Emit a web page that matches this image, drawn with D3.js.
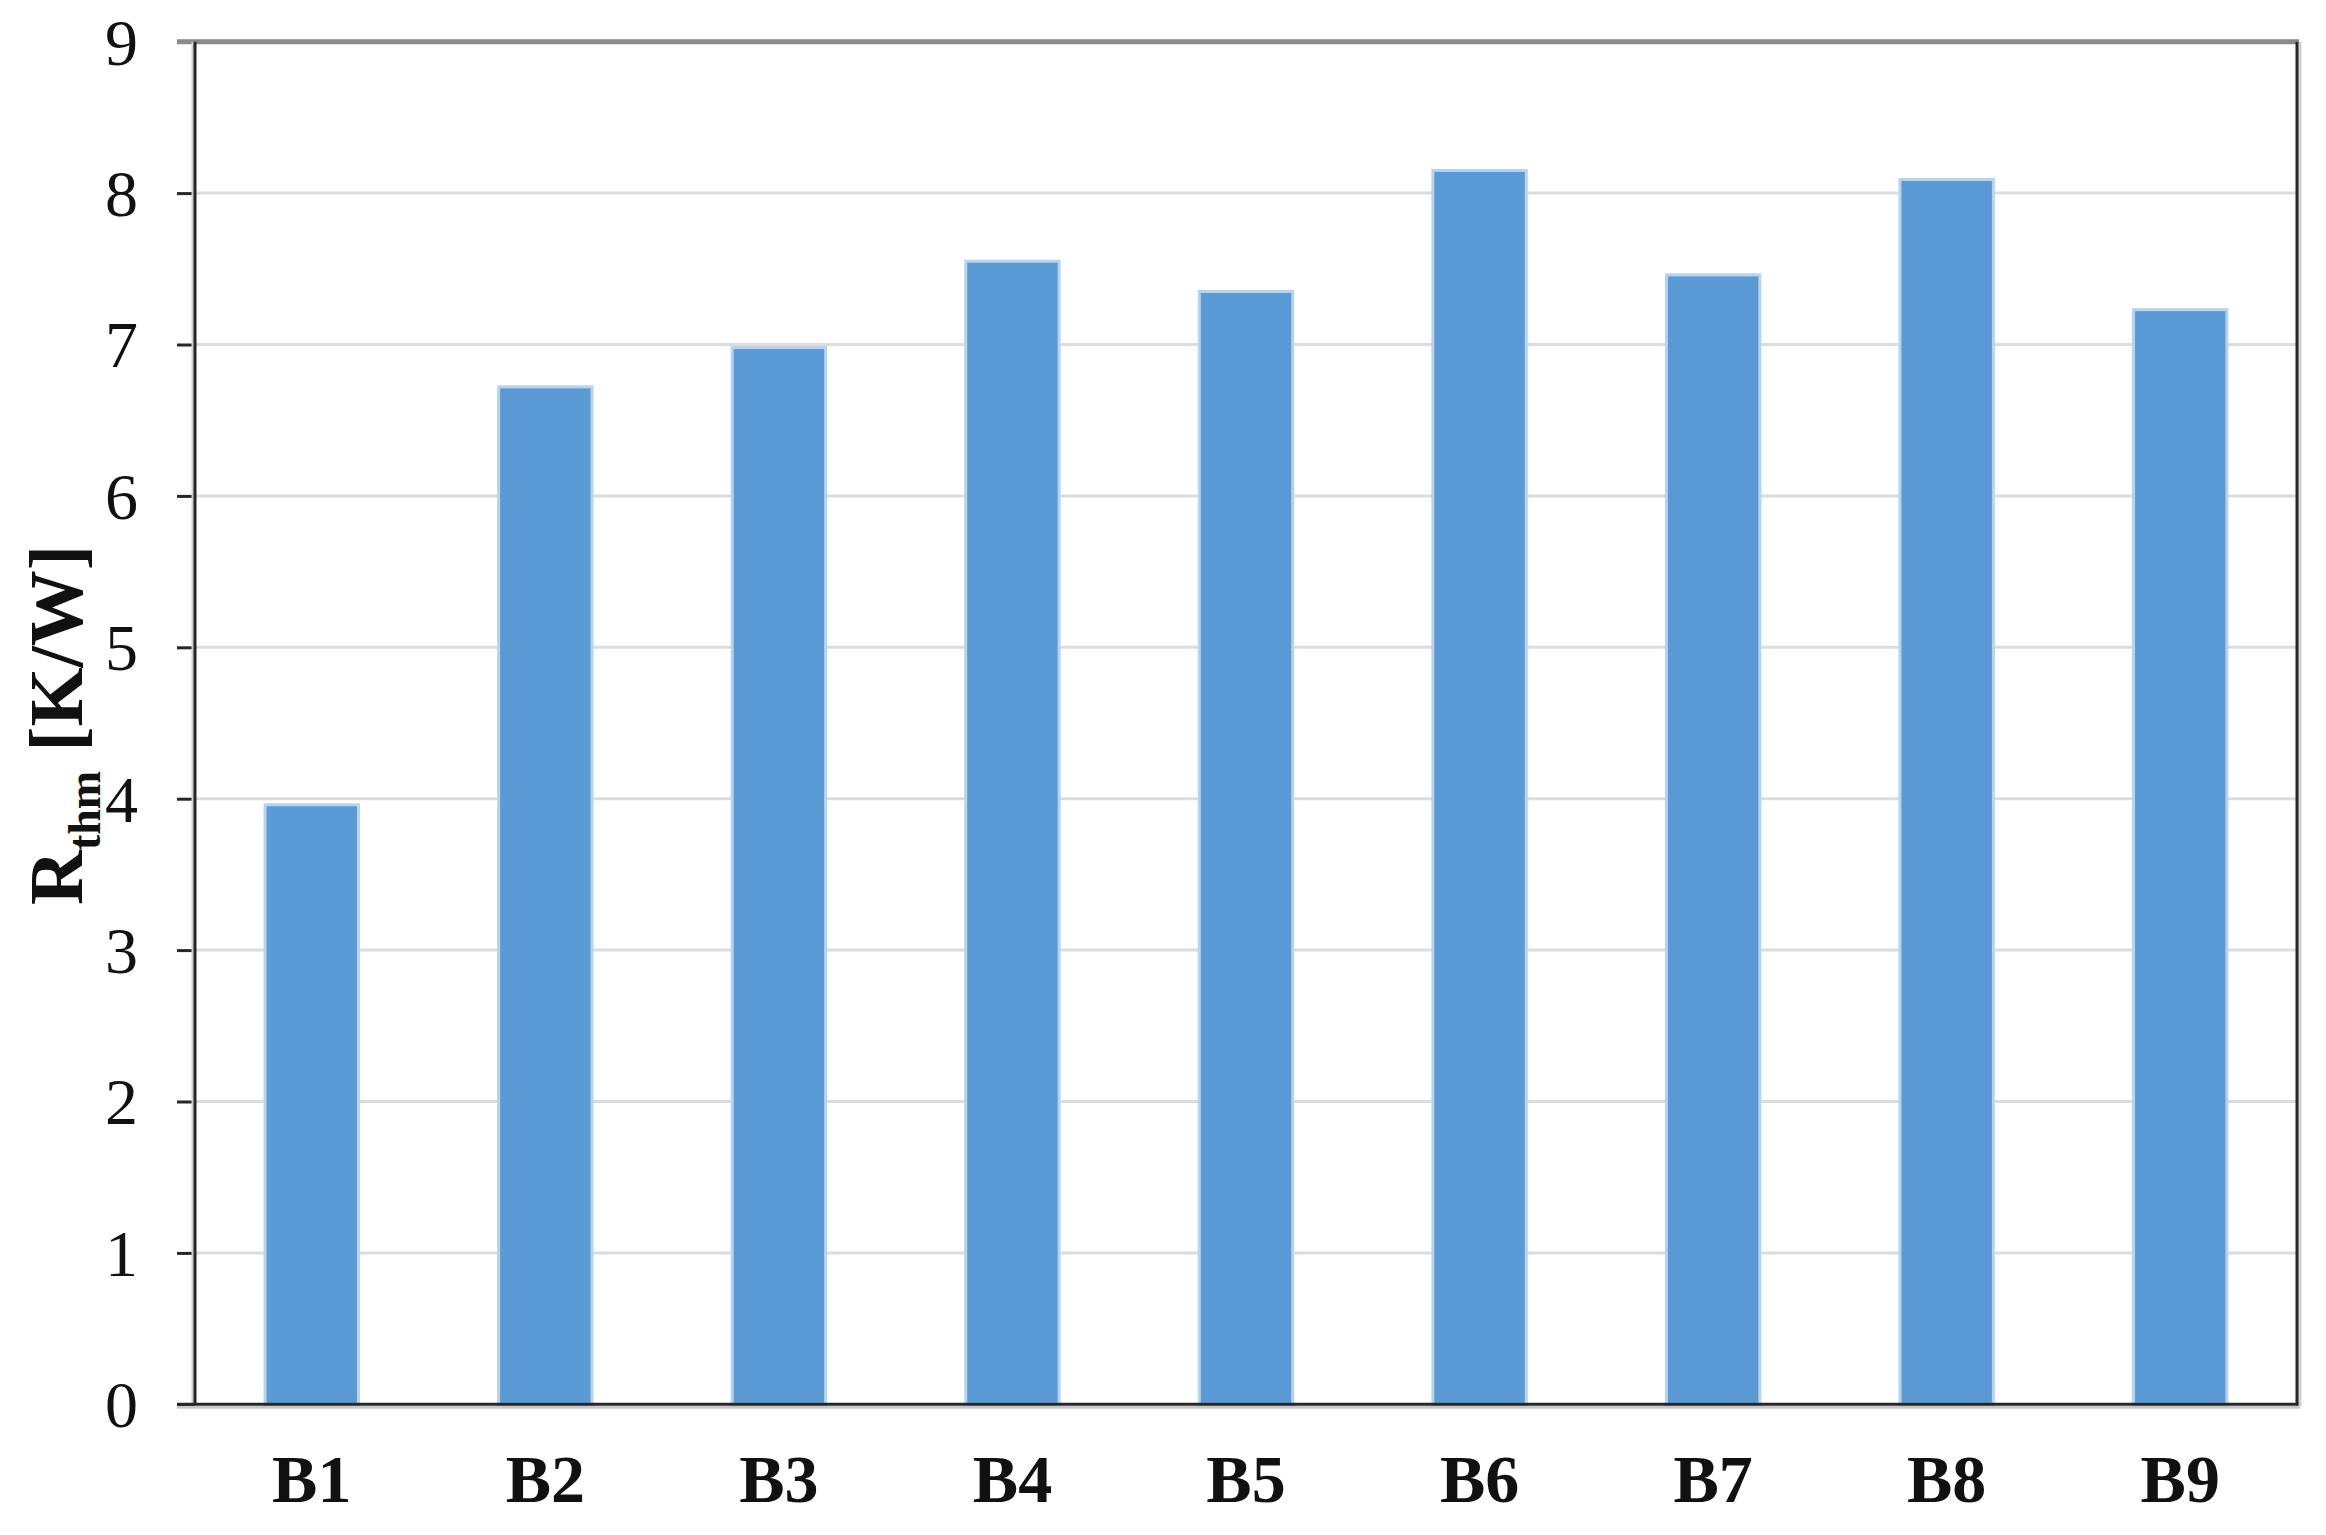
<!DOCTYPE html>
<html>
<head>
<meta charset="utf-8">
<script src="https://cdn.jsdelivr.net/npm/d3@7"></script>
<style>
html,body{margin:0;padding:0;background:#fff;}
svg{display:block;}
</style>
</head>
<body>
<script>
const categories = ["B1","B2","B3","B4","B5","B6","B7","B8","B9"];
const values = [3.96, 6.72, 6.98, 7.55, 7.35, 8.15, 7.46, 8.09, 7.23];
const yTicks = [0,1,2,3,4,5,6,7,8,9];

const W = 2326, H = 1535;
const m = {left:195, top:41.7, right:2326-2297, bottom:1535-1404.3};
const iw = W - m.left - m.right, ih = H - m.top - m.bottom;

const svg = d3.select("body").append("svg").attr("width",W).attr("height",H);
const g = svg.append("g").attr("transform",`translate(${m.left},${m.top})`);

const x = d3.scaleBand().domain(categories).range([0,iw]).paddingInner(0.6).paddingOuter(0.3);
const y = d3.scaleLinear().domain([0,9]).range([ih,0]);

// gridlines
g.append("g").selectAll("line").data(yTicks.filter(t=>t>0 && t<9)).join("line")
  .attr("x1",0).attr("x2",iw).attr("y1",d=>y(d)).attr("y2",d=>y(d))
  .attr("stroke","#dcdcdc").attr("stroke-width",3);

// bars
g.append("g").selectAll("rect").data(values).join("rect")
  .attr("x",(d,i)=>x(categories[i]))
  .attr("width",x.bandwidth())
  .attr("y",d=>y(d))
  .attr("height",d=>ih-y(d))
  .attr("fill","#5b9bd5")
  .attr("stroke","#b9d3ef").attr("stroke-width",3);

// top border
g.append("line").attr("x1",-18).attr("x2",iw+2).attr("y1",0).attr("y2",0)
  .attr("stroke","#8a8a8a").attr("stroke-width",5);
// right border
g.append("line").attr("x1",iw+2).attr("x2",iw+2).attr("y1",0).attr("y2",ih+2)
  .attr("stroke","#d0d0d0").attr("stroke-width",5);
g.append("line").attr("x1",iw).attr("x2",iw).attr("y1",0).attr("y2",ih)
  .attr("stroke","#262626").attr("stroke-width",3);

// y axis
const ya = g.append("g").call(d3.axisLeft(y).tickValues(yTicks).tickSize(18).tickPadding(39).tickFormat(d3.format("d")));
ya.select(".domain").remove();
ya.selectAll(".tick line").attr("stroke","#262626").attr("stroke-width",3);
ya.selectAll(".tick").filter(d=>d===9).select("line").remove();
ya.selectAll(".tick text").attr("font-family","'Liberation Serif','Times New Roman',serif")
  .attr("font-size",66).attr("fill","#111").attr("dy","0.34em");
g.append("line").attr("x1",-2).attr("x2",-2).attr("y1",0).attr("y2",ih)
  .attr("stroke","#cfcfcf").attr("stroke-width",3);
g.append("line").attr("x1",0).attr("x2",0).attr("y1",0).attr("y2",ih)
  .attr("stroke","#262626").attr("stroke-width",3);

// x axis
const xa = g.append("g").attr("transform",`translate(0,${ih})`)
  .call(d3.axisBottom(x).tickSize(0).tickPadding(0));
xa.select(".domain").remove();
xa.selectAll(".tick text").attr("font-family","'Liberation Serif','Times New Roman',serif")
  .attr("font-weight","bold").attr("font-size",68).attr("fill","#111")
  .attr("y",1502-1404.3).attr("dy",0);
g.append("line").attr("x1",-18).attr("x2",iw+3).attr("y1",ih+3).attr("y2",ih+3)
  .attr("stroke","#c8c8c8").attr("stroke-width",3);
g.append("line").attr("x1",-18).attr("x2",iw+1.5).attr("y1",ih).attr("y2",ih)
  .attr("stroke","#262626").attr("stroke-width",3);

// y label
const lab = svg.append("text")
  .attr("transform",`translate(82,${m.top+ih/2+2}) rotate(-90)`)
  .attr("text-anchor","middle")
  .attr("font-family","'Liberation Serif','Times New Roman',serif")
  .attr("font-weight","bold").attr("font-size",76).attr("fill","#111");
lab.append("tspan").text("R");
lab.append("tspan").attr("font-size",46).attr("dy",18).text("thm");
lab.append("tspan").attr("dy",-18).text(" [K/W]");
</script>
</body>
</html>
